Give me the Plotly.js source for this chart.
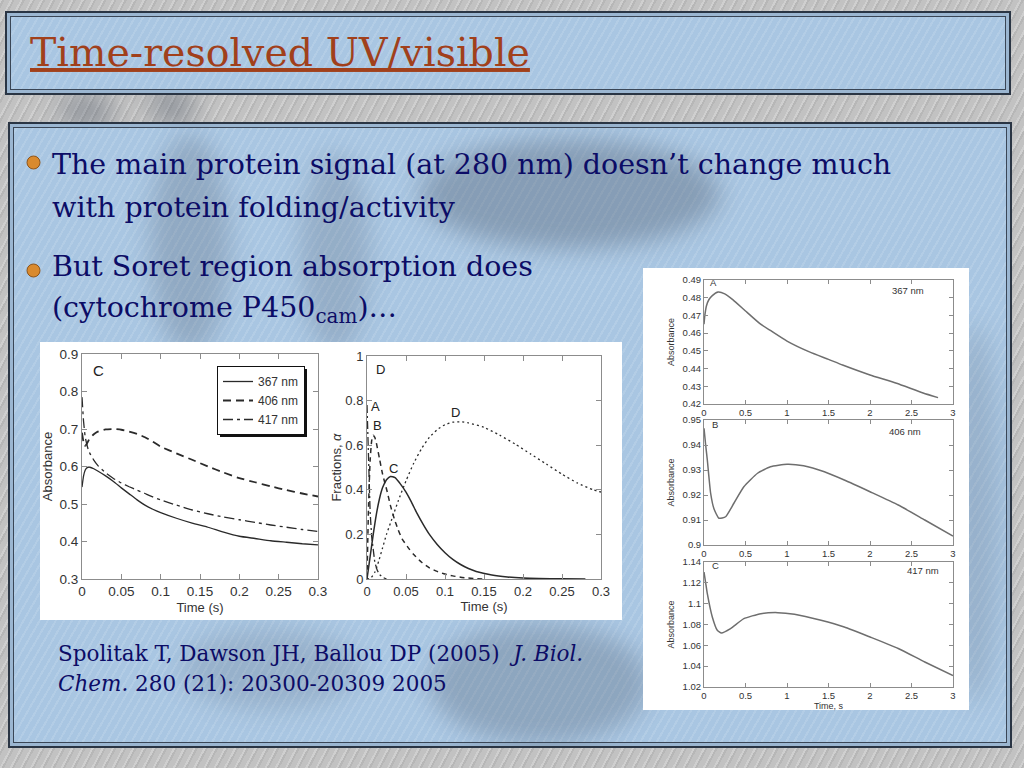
<!DOCTYPE html>
<html><head><meta charset="utf-8">
<script src="https://cdn.plot.ly/plotly-3.0.1.min.js"></script>
<style>
html,body{margin:0;padding:0;width:1024px;height:768px;overflow:hidden;}
body{position:relative;background-color:#c2c2c2;
 background-image:repeating-linear-gradient(118deg,rgba(255,255,255,0.22) 0 2px,rgba(0,0,0,0.06) 2px 4px,rgba(255,255,255,0) 4px 9px);}
.box{position:absolute;background-color:#a9c6e2;border:2px solid #2a3544;
 box-shadow:inset 0 0 0 3px #9bb6d1,inset 0 0 0 4px #3a4656;overflow:hidden;
 background-image:repeating-linear-gradient(120deg,rgba(255,255,255,0.12) 0 2px,rgba(255,255,255,0) 2px 7px);}
.blob{position:absolute;border-radius:50%;background:rgba(68,80,98,0.34);filter:blur(12px);}
#chart{position:absolute;left:0;top:0;width:1024px;height:768px;}
</style></head>
<body>
<div class="blob" style="left:60px;top:92px;width:55px;height:40px;"></div>
<div class="blob" style="left:150px;top:84px;width:45px;height:45px;"></div>
<div class="box" style="left:5px;top:11px;width:1002px;height:80px;"></div>
<div class="box" style="left:8px;top:122px;width:1000px;height:622px;">
  <div class="blob" style="left:410px;top:15px;width:300px;height:110px;"></div>
  <div class="blob" style="left:140px;top:10px;width:80px;height:220px;opacity:0.7"></div>
  <div class="blob" style="left:290px;top:30px;width:70px;height:200px;opacity:0.6"></div>
  <div class="blob" style="left:420px;top:500px;width:220px;height:120px;opacity:0.8"></div>
  <div class="blob" style="left:170px;top:505px;width:180px;height:80px;opacity:0.5"></div>
  <div class="blob" style="left:940px;top:200px;width:50px;height:380px;opacity:0.5"></div>
</div>
<div id="chart"></div>
<script>
// ---------- Data: panel C (absorbance, 0-0.3 s) ----------
const timeC = [0,0.002,0.004,0.006,0.008,0.01,0.015,0.02,0.03,0.04,0.05,0.06,0.07,0.08,0.09,0.1,0.12,0.14,0.16,0.18,0.2,0.22,0.24,0.26,0.28,0.3];
const abs367C = [0.545,0.575,0.59,0.596,0.598,0.598,0.594,0.588,0.575,0.56,0.543,0.527,0.511,0.497,0.486,0.477,0.462,0.449,0.438,0.425,0.414,0.408,0.402,0.398,0.394,0.391];
const abs406C = [0.69,0.665,0.655,0.66,0.668,0.675,0.686,0.693,0.699,0.7,0.698,0.693,0.687,0.678,0.666,0.653,0.635,0.618,0.6,0.584,0.569,0.558,0.547,0.537,0.528,0.52];
const abs417C = [0.785,0.72,0.68,0.66,0.645,0.635,0.617,0.603,0.583,0.568,0.556,0.546,0.537,0.528,0.519,0.511,0.497,0.484,0.474,0.465,0.458,0.451,0.444,0.438,0.432,0.427];
const seriesNamesC = ['367 nm','406 nm','417 nm'];

// ---------- Data: panel D (species fractions) ----------
const timeFA = [0,0.002,0.004,0.006,0.008,0.01,0.013,0.016,0.02,0.025];
const fracA  = [0.78,0.48,0.3,0.19,0.12,0.075,0.04,0.02,0.008,0];
const timeFB = [0,0.002,0.004,0.006,0.008,0.01,0.012,0.016,0.02,0.026,0.03,0.035,0.04,0.045,0.054,0.06,0.07,0.08,0.09,0.1,0.11,0.12,0.13,0.15];
const fracB  = [0,0.33,0.53,0.62,0.645,0.635,0.61,0.54,0.47,0.39,0.33,0.27,0.22,0.18,0.135,0.11,0.075,0.05,0.034,0.022,0.014,0.008,0.004,0];
const timeFC = [0,0.004,0.008,0.012,0.016,0.02,0.025,0.03,0.036,0.042,0.05,0.057,0.064,0.072,0.08,0.09,0.1,0.11,0.12,0.13,0.14,0.16,0.18,0.2,0.22,0.25,0.28];
const fracC  = [0,0.1,0.2,0.29,0.36,0.41,0.445,0.46,0.455,0.43,0.39,0.345,0.295,0.245,0.2,0.155,0.118,0.088,0.065,0.047,0.034,0.018,0.009,0.004,0.002,0.001,0];
const timeFD = [0,0.005,0.01,0.015,0.02,0.025,0.03,0.035,0.04,0.05,0.06,0.07,0.08,0.09,0.1,0.11,0.12,0.13,0.15,0.17,0.19,0.21,0.23,0.25,0.27,0.29,0.3];
const fracD  = [0,0.005,0.03,0.08,0.14,0.2,0.25,0.3,0.35,0.44,0.52,0.585,0.635,0.67,0.692,0.703,0.705,0.7,0.68,0.645,0.605,0.56,0.515,0.47,0.43,0.4,0.39];

// ---------- Data: right panels (0-3 s) ----------
const time367 = [0,0.01,0.03,0.06,0.1,0.17,0.25,0.35,0.5,0.67,0.8,1.0,1.27,1.5,1.67,2.0,2.32,2.64,2.82];
const abs367  = [0.465,0.470,0.4755,0.479,0.4812,0.4832,0.4822,0.4788,0.4725,0.4655,0.4615,0.4555,0.4494,0.4452,0.442,0.4364,0.4317,0.4262,0.4236];
const time406 = [0,0.02,0.04,0.08,0.12,0.18,0.26,0.36,0.48,0.645,0.8,1.0,1.2,1.45,1.69,2.0,2.34,2.66,3.0];
const abs406  = [0.9467,0.940,0.934,0.9207,0.9145,0.9107,0.9113,0.9167,0.9233,0.9287,0.9313,0.9323,0.9317,0.9293,0.926,0.9213,0.916,0.91,0.9036];
const time417 = [0,0.02,0.04,0.1,0.16,0.21,0.32,0.48,0.685,0.89,1.09,1.41,1.69,2.0,2.34,2.66,3.0];
const abs417  = [1.1304,1.12,1.1096,1.0872,1.0744,1.0718,1.076,1.0856,1.0904,1.0914,1.0898,1.084,1.0776,1.068,1.057,1.044,1.031];

// ---------- Text ----------
const slideTitle = 'Time-resolved UV/visible';
const bullet1Lines = ['The main protein signal (at 280 nm) doesn\u2019t change much', 'with protein folding/activity'];
const bullet2Lines = ['But Soret region absorption does', '(cytochrome P450<sub>cam</sub>)\u2026'];
const citationLines = ['Spolitak T, Dawson JH, Ballou DP (2005)\u00A0 <i>J. Biol.</i>', '<i>Chem.</i> 280 (21): 20300-20309 2005'];

const W = 1024, H = 768;
const fx = p => p / W, fy = p => 1 - p / H;
const INK = '#2a2a2a', GRAYLINE = '#6e6e6e';
const sans = 'Liberation Sans, Arial, sans-serif';
const serif = 'DejaVu Serif, Liberation Serif, serif';

function ax(extra, fs) {
  return Object.assign({
    showgrid:false, zeroline:false, showline:true, linecolor:'#8c8c8c', linewidth:1,
    mirror:'ticks', ticks:'inside', ticklen:5, tickcolor:'#8c8c8c',
    tickfont:{family:sans, size:fs, color:'#333'}, fixedrange:true
  }, extra);
}
const smooth = {shape:'spline', smoothing:0.5};

const traces = [
  {x:timeC, y:abs367C, xaxis:'x', yaxis:'y', name:seriesNamesC[0], mode:'lines', line:Object.assign({color:INK, width:1.3}, smooth)},
  {x:timeC, y:abs406C, xaxis:'x', yaxis:'y', name:seriesNamesC[1], mode:'lines', line:Object.assign({color:INK, width:1.8, dash:'8px,5px'}, smooth)},
  {x:timeC, y:abs417C, xaxis:'x', yaxis:'y', name:seriesNamesC[2], mode:'lines', line:Object.assign({color:INK, width:1.3, dash:'10px,4px,3px,4px'}, smooth)},
  {x:timeFA, y:fracA, xaxis:'x2', yaxis:'y2', name:'A', showlegend:false, mode:'lines', line:{color:INK, width:1.3, dash:'8px,3px,2px,3px'}},
  {x:timeFB, y:fracB, xaxis:'x2', yaxis:'y2', name:'B', showlegend:false, mode:'lines', line:Object.assign({color:INK, width:1.5, dash:'5px,4px'}, smooth)},
  {x:timeFC, y:fracC, xaxis:'x2', yaxis:'y2', name:'C', showlegend:false, mode:'lines', line:Object.assign({color:INK, width:1.5}, smooth)},
  {x:timeFD, y:fracD, xaxis:'x2', yaxis:'y2', name:'D', showlegend:false, mode:'lines', line:Object.assign({color:INK, width:1.3, dash:'2px,3px'}, smooth)},
  {x:time367, y:abs367, xaxis:'x3', yaxis:'y3', name:'367 nm (A)', showlegend:false, mode:'lines', line:Object.assign({color:GRAYLINE, width:1.5}, smooth)},
  {x:time406, y:abs406, xaxis:'x4', yaxis:'y4', name:'406 nm (B)', showlegend:false, mode:'lines', line:Object.assign({color:GRAYLINE, width:1.5}, smooth)},
  {x:time417, y:abs417, xaxis:'x5', yaxis:'y5', name:'417 nm (C)', showlegend:false, mode:'lines', line:Object.assign({color:GRAYLINE, width:1.5}, smooth)}
];

const rightX = [fx(704), fx(953)];
const axTitle = (t, s, so) => ({text:t, font:{size:s, family:sans, color:'#333'}, standoff:so});
const txt = (text, xp, ytop, size, font, color) => ({xref:'paper', yref:'paper', x:fx(xp), y:fy(ytop), xanchor:'left', yanchor:'top', align:'left', showarrow:false, text:text, font:{family:font, size:size, color:color}});
const NAVY = '#0c0c66';
const layout = {
  width:W, height:H, margin:{l:0,r:0,t:0,b:0},
  paper_bgcolor:'rgba(0,0,0,0)', plot_bgcolor:'#ffffff',
  font:{family:sans, color:'#333'},
  showlegend:true,
  legend:{x:fx(217), y:fy(366), xanchor:'left', yanchor:'top', bgcolor:'#ffffff', bordercolor:'#111', borderwidth:1,
          font:{family:sans, size:12, color:'#333'}, itemwidth:30, tracegroupgap:0},
  xaxis: ax({domain:[fx(82),fx(318)], range:[0,0.3], dtick:0.05, anchor:'y', title:axTitle('Time (s)',13,4)}, 13.5),
  yaxis: ax({domain:[fy(579),fy(354)], range:[0.3,0.9], dtick:0.1, anchor:'x', title:axTitle('Absorbance',13,3)}, 13.5),
  xaxis2: ax({domain:[fx(367),fx(601)], range:[0,0.3], dtick:0.05, anchor:'y2', title:axTitle('Time (s)',13,4)}, 13),
  yaxis2: ax({domain:[fy(579),fy(356)], range:[0,1], dtick:0.2, anchor:'x2', title:axTitle('Fractions, <i>\u03B1</i>',13,0)}, 13),
  xaxis3: ax({domain:rightX, range:[0,3], dtick:0.5, anchor:'y3', ticklen:4}, 9.5),
  yaxis3: ax({domain:[fy(404),fy(280)], range:[0.42,0.49], dtick:0.01, anchor:'x3', ticklen:4, title:axTitle('Absorbance',9,6)}, 9.5),
  xaxis4: ax({domain:rightX, range:[0,3], dtick:0.5, anchor:'y4', ticklen:4}, 9.5),
  yaxis4: ax({domain:[fy(545),fy(420)], range:[0.9,0.95], dtick:0.01, anchor:'x4', ticklen:4, title:axTitle('Absorbance',9,6)}, 9.5),
  xaxis5: ax({domain:rightX, range:[0,3], dtick:0.5, anchor:'y5', ticklen:4, title:axTitle('Time, s',9,0)}, 9.5),
  yaxis5: ax({domain:[fy(687),fy(562)], range:[1.02,1.14], dtick:0.02, anchor:'x5', ticklen:4, title:axTitle('Absorbance',9,6)}, 9.5),
  shapes:[
    {type:'rect', xref:'paper', yref:'paper', x0:fx(40), x1:fx(622), y0:fy(620), y1:fy(342), fillcolor:'#ffffff', line:{width:0}, layer:'below'},
    {type:'rect', xref:'paper', yref:'paper', x0:fx(643), x1:fx(969), y0:fy(710), y1:fy(268), fillcolor:'#ffffff', line:{width:0}, layer:'below'},
    {type:'rect', xref:'paper', yref:'paper', x0:fx(220), x1:fx(307), y0:fy(437), y1:fy(369), fillcolor:'#111', line:{width:0}, layer:'above'},
    {type:'circle', xref:'paper', yref:'paper', x0:fx(27), x1:fx(40), y0:fy(169), y1:fy(156), fillcolor:'#d98a2e', line:{color:'#8f5418', width:1}},
    {type:'circle', xref:'paper', yref:'paper', x0:fx(27), x1:fx(40), y0:fy(277), y1:fy(264), fillcolor:'#d98a2e', line:{color:'#8f5418', width:1}}
  ],
  annotations:[
    {xref:'paper', yref:'paper', x:fx(28), y:fy(52), xanchor:'left', yanchor:'middle', showarrow:false,
     text:'<u>'+slideTitle+'</u>', font:{family:serif, size:39.5, color:'#a1401b'}},
    txt(bullet1Lines[0], 50, 146, 28.5, serif, NAVY),
    txt(bullet1Lines[1], 50, 189, 28.5, serif, NAVY),
    txt(bullet2Lines[0], 50, 248, 28.5, serif, NAVY),
    txt(bullet2Lines[1], 50, 289, 28.5, serif, NAVY),
    txt(citationLines[0], 56, 639, 21.5, serif, NAVY),
    txt(citationLines[1], 56, 669, 21.5, serif, NAVY),
    {xref:'x', yref:'y', x:0.012, y:0.855, xanchor:'left', yanchor:'middle', showarrow:false, text:'C', font:{family:sans, size:15, color:'#222'}},
    {xref:'x2', yref:'y2', x:0.009, y:0.94, xanchor:'left', yanchor:'middle', showarrow:false, text:'D', font:{family:sans, size:13, color:'#222'}},
    {xref:'x2', yref:'y2', x:0.003, y:0.775, xanchor:'left', yanchor:'middle', showarrow:false, text:'A', font:{family:sans, size:13, color:'#222'}},
    {xref:'x2', yref:'y2', x:0.005, y:0.69, xanchor:'left', yanchor:'middle', showarrow:false, text:'B', font:{family:sans, size:13, color:'#222'}},
    {xref:'x2', yref:'y2', x:0.034, y:0.495, xanchor:'center', yanchor:'middle', showarrow:false, text:'C', font:{family:sans, size:13, color:'#222'}},
    {xref:'x2', yref:'y2', x:0.113, y:0.745, xanchor:'center', yanchor:'middle', showarrow:false, text:'D', font:{family:sans, size:13, color:'#222'}},
    {xref:'x3', yref:'y3', x:0.05, y:0.4885, xanchor:'left', yanchor:'middle', showarrow:false, text:'A', font:{family:sans, size:9.5, color:'#333'}},
    {xref:'x3', yref:'y3', x:2.46, y:0.4843, xanchor:'center', yanchor:'middle', showarrow:false, text:'367 nm', font:{family:sans, size:9.5, color:'#333'}},
    {xref:'x4', yref:'y4', x:0.07, y:0.9484, xanchor:'left', yanchor:'middle', showarrow:false, text:'B', font:{family:sans, size:9.5, color:'#333'}},
    {xref:'x4', yref:'y4', x:2.42, y:0.9453, xanchor:'center', yanchor:'middle', showarrow:false, text:'406 nm', font:{family:sans, size:9.5, color:'#333'}},
    {xref:'x5', yref:'y5', x:0.07, y:1.137, xanchor:'left', yanchor:'middle', showarrow:false, text:'C', font:{family:sans, size:9.5, color:'#333'}},
    {xref:'x5', yref:'y5', x:2.64, y:1.1315, xanchor:'center', yanchor:'middle', showarrow:false, text:'417 nm', font:{family:sans, size:9.5, color:'#333'}}
  ]
};
Plotly.newPlot('chart', traces, layout, {staticPlot:true, displayModeBar:false});
</script>
</body></html>
